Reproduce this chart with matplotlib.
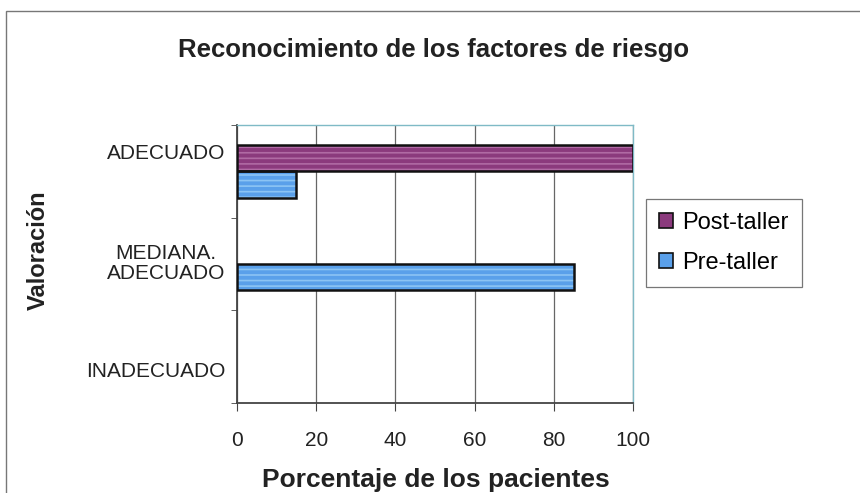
import numpy as np
import matplotlib.pyplot as plt
from matplotlib.patches import Rectangle

plt.rcParams['font.family'] = ['Liberation Sans', 'DejaVu Sans']
plt.rcParams['hatch.linewidth'] = 1.2

# categories from top to bottom
categorias = ["ADECUADO", "MEDIANA.\nADECUADO", "INADECUADO"]
post_taller = [100, 0, 0]
pre_taller = [15, 85, 0]

color_post = "#8b3a7d"
color_pre = "#5aa0ea"

fig = plt.figure(figsize=(8.6, 4.93), dpi=100)
ax = fig.add_axes([237 / 860, 1 - 403 / 493, 396 / 860, 278 / 493])

y = np.arange(len(categorias))
h = 0.285
series = [(y - h / 2, post_taller, color_post, "#b06aa4", "Post-taller"),
          (y + h / 2, pre_taller, color_pre, "#8cc4f4", "Pre-taller")]
for pos, vals, col, raya, nombre in series:
    # striped fill, then a separate black outline on top (none for empty bars)
    ax.barh(pos, vals, height=h, color=col, edgecolor=raya, hatch="---",
            linewidth=0, zorder=3)
    bordes = ["#111111" if v > 0 else "none" for v in vals]
    ax.barh(pos, vals, height=h, fill=False, edgecolor=bordes,
            linewidth=1.8, zorder=4)
    ax.barh([0], [0], height=0, color=col, edgecolor="#111111",
            linewidth=1.2, label=nombre)

ax.set_ylim(len(categorias) - 0.5, -0.5)
ax.set_xlim(0, 100)
ax.set_xticks(np.arange(0, 101, 20))
# label positions as laid out by the original chart
ax.set_yticks([-0.21, 0.97, 2.14])
ax.set_yticklabels(categorias, fontsize=15, ha="right", multialignment="center",
                   linespacing=1.05, color="#222222")
ax.set_yticks(np.arange(-0.5, len(categorias), 1), minor=True)
ax.tick_params(axis="y", which="major", length=0, pad=8.5)
ax.tick_params(axis="y", which="minor", length=4, color="#444444")
ax.tick_params(axis="x", labelsize=15, length=6, pad=14, color="#444444",
               labelcolor="#222222")
ax.grid(axis="x", color="#666666", linewidth=0.9, zorder=0)

for side in ["top", "right"]:
    ax.spines[side].set_color("#7fbac6")
    ax.spines[side].set_linewidth(1.0)
for side in ["left", "bottom"]:
    ax.spines[side].set_color("#444444")
    ax.spines[side].set_linewidth(1.3)

fig.text(434 / 860, 1 - 57 / 493, "Reconocimiento de los factores de riesgo",
         ha="center", va="baseline", fontsize=18.5, fontweight="bold", color="#222222")
fig.text(436 / 860, 1 - 487 / 493, "Porcentaje de los pacientes",
         ha="center", va="baseline", fontsize=19, fontweight="bold", color="#222222")
fig.text(38 / 860, 1 - 250 / 493, "Valoración", rotation=90,
         ha="center", va="center", fontsize=17, fontweight="bold", color="#222222")

leg = fig.legend(loc="upper left", bbox_to_anchor=(646 / 860, 1 - 199 / 493),
                 fontsize=17, frameon=True, fancybox=False, edgecolor="#555555",
                 handlelength=0.6, handleheight=0.6, handletextpad=0.4,
                 labelspacing=0.75, borderpad=0.55, borderaxespad=0)
leg.get_frame().set_linewidth(0.9)

# outer chart frame
fig.patches.append(Rectangle((6 / 860, -0.01), 1.0, 1 - 11 / 493 + 0.01,
                             transform=fig.transFigure, fill=False,
                             edgecolor="#777777", linewidth=1.0))

fig.savefig("out.png", dpi=100)
